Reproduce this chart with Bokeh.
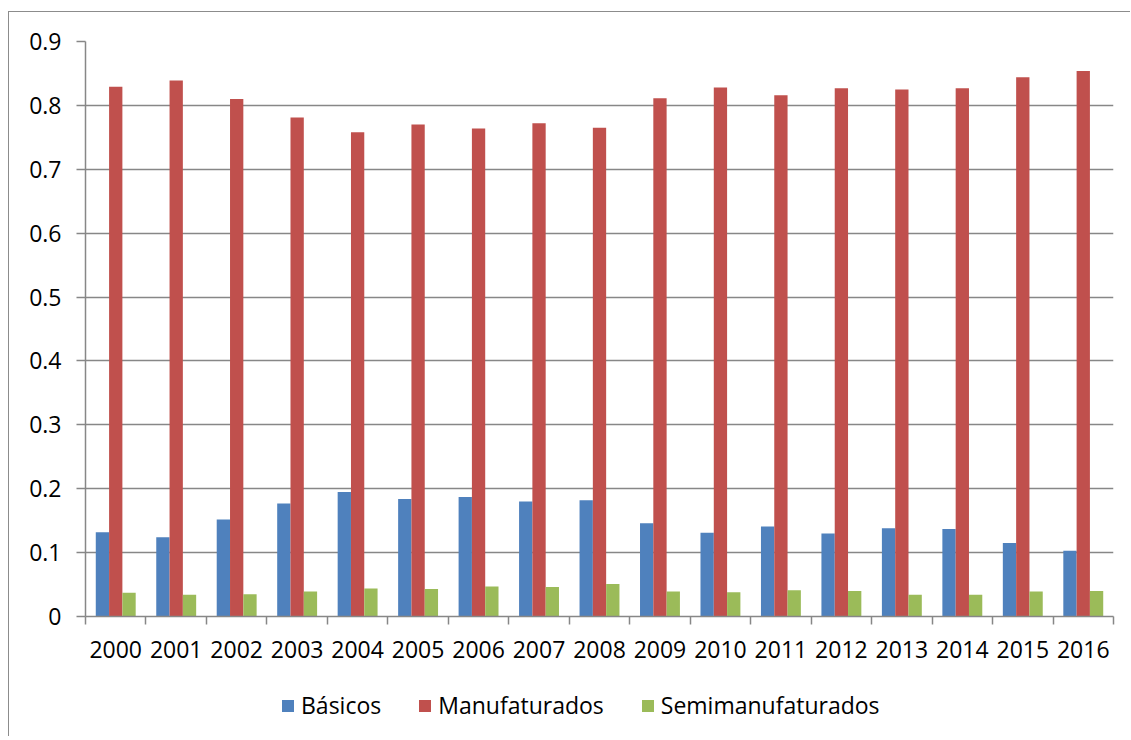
from bokeh.plotting import figure
from bokeh.layouts import column
from bokeh.models import FixedTicker, Legend, LegendItem, Range1d
from bokeh.transform import dodge
from bokeh.embed import file_html
from bokeh.resources import INLINE

# Export shares by product type, 2000-2016
years = ["2000", "2001", "2002", "2003", "2004", "2005", "2006", "2007", "2008",
         "2009", "2010", "2011", "2012", "2013", "2014", "2015", "2016"]
basicos = [0.132, 0.124, 0.152, 0.177, 0.195, 0.184, 0.187, 0.180, 0.182,
           0.146, 0.131, 0.141, 0.130, 0.138, 0.137, 0.115, 0.103]
manufaturados = [0.829, 0.839, 0.810, 0.781, 0.758, 0.770, 0.764, 0.772, 0.765,
                 0.811, 0.828, 0.816, 0.827, 0.825, 0.827, 0.844, 0.854]
semimanufaturados = [0.037, 0.034, 0.035, 0.039, 0.044, 0.043, 0.047, 0.046, 0.051,
                     0.039, 0.038, 0.041, 0.040, 0.034, 0.034, 0.039, 0.040]
series_names = ["Básicos", "Manufaturados", "Semimanufaturados"]
series_colors = ["#4F81BD", "#C0504D", "#9BBB59"]
y_ticks = [0.0, 0.1, 0.2, 0.3, 0.4, 0.5, 0.6, 0.7, 0.8, 0.9]

FONT = "Open Sans"
GRID = "#878787"
LW = 1.5
FS = "23px"

n = len(years)
centers = [i + 0.5 for i in range(n)]
bounds = [float(i) for i in range(n + 1)]
data = dict(x=centers, basicos=basicos, manuf=manufaturados, semi=semimanufaturados)

p = figure(width=1121, height=664, output_backend="svg", toolbar_location=None,
           x_range=Range1d(0, n), y_range=Range1d(0, 0.9),
           min_border_left=76, min_border_right=17, min_border_top=29,
           min_border_bottom=60)
p.outline_line_color = None
p.background_fill_color = "white"

w = 0.22
for col, dx, color in zip(["basicos", "manuf", "semi"], [-w, 0.0, w], series_colors):
    p.vbar(x=dodge("x", dx, range=p.x_range), top=col, width=w,
           source=data, fill_color=color, line_color=None)

# x axis: year labels at category centers, tick marks at category boundaries
xa = p.xaxis[0]
xa.ticker = FixedTicker(ticks=centers, minor_ticks=bounds)
xa.major_label_overrides = {c: y for c, y in zip(centers, years)}
xa.major_tick_line_color = None
xa.major_tick_out = 8
xa.major_tick_in = 0
xa.minor_tick_line_color = GRID
xa.minor_tick_line_width = LW
xa.minor_tick_out = 8
xa.minor_tick_in = 0
xa.axis_line_color = GRID
xa.axis_line_width = LW
xa.major_label_text_font = FONT
xa.major_label_text_font_size = FS
xa.major_label_text_color = "black"
xa.major_label_standoff = 16

ya = p.yaxis[0]
ya.ticker = FixedTicker(ticks=y_ticks)
ya.major_label_overrides = {t: ("0" if t == 0 else f"{t:.1f}") for t in y_ticks}
ya.major_tick_line_color = GRID
ya.major_tick_line_width = LW
ya.major_tick_out = 9
ya.major_tick_in = 0
ya.minor_tick_line_color = None
ya.axis_line_color = GRID
ya.axis_line_width = LW
ya.major_label_text_font = FONT
ya.major_label_text_font_size = FS
ya.major_label_text_color = "black"
ya.major_label_standoff = 15

p.xgrid.grid_line_color = None
p.ygrid.ticker = FixedTicker(ticks=y_ticks)
p.ygrid.grid_line_color = GRID
p.ygrid.grid_line_width = LW

# legend strip under the chart; its proxy bars sit outside the visible range
leg = figure(width=1121, height=60, output_backend="svg", toolbar_location=None,
             x_range=Range1d(0, 1), y_range=Range1d(0, 1),
             min_border=0, x_axis_type=None, y_axis_type=None)
leg.outline_line_color = None
leg.grid.visible = False
items = []
for name, color in zip(series_names, series_colors):
    r = leg.vbar(x=[-5.0], top=[0.0], width=0.1, fill_color=color, line_color=None)
    items.append(LegendItem(label=name, renderers=[r]))
legend = Legend(items=items, orientation="horizontal", location=(195, 15),
                label_text_font=FONT, label_text_font_size=FS,
                label_text_color="black", label_height=30,
                glyph_width=15, glyph_height=15, label_standoff=6, spacing=36,
                border_line_color=None, background_fill_alpha=0,
                margin=0, padding=0)
leg.add_layout(legend, "center")

layout = column(p, leg, spacing=0,
                styles={"border-left": "1px solid #8c8c8c",
                        "border-top": "1px solid #8c8c8c"})
layout.margin = (11, 0, 0, 8)

open("out.html", "w").write(file_html(layout, INLINE))
